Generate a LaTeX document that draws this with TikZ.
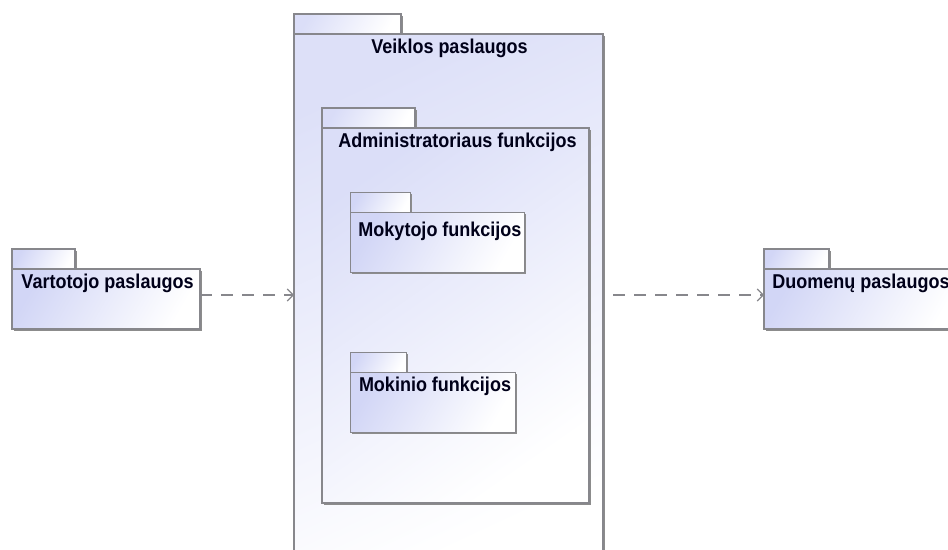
\documentclass[tikz,border=0pt]{standalone}
\usepackage{fontspec}
\newfontfamily\pkgfont[FakeStretch=0.9]{Liberation Sans}
\usetikzlibrary{arrows.meta,shadows,calc}
\definecolor{pkgblue}{RGB}{210,214,246}
\definecolor{pkgline}{RGB}{135,135,140}
\begin{document}
\begin{tikzpicture}[x=1pt,y=1pt,
  pkg/.style={draw=pkgline, line width=1.1pt, top color=white, bottom color=pkgblue, shading angle=240,
    inner sep=0pt, outer sep=0pt,
    drop shadow={shadow xshift=1.6pt, shadow yshift=-1.6pt, fill=black!45, opacity=1}},
  tabbox/.style={pkg, anchor=south west, minimum height=20pt},
  bodybox/.style={pkg, anchor=north west},
  ttl/.style={font=\pkgfont\bfseries\fontsize{20}{21}\selectfont, anchor=base, inner sep=0pt, text=black!90!blue},
  dep/.style={draw=pkgline, line width=1.1pt, dash pattern=on 12pt off 9pt,
    -{Straight Barb[length=6pt,width=12pt,line width=1.1pt]}}]
\useasboundingbox (0,0) rectangle (948,549);
\fill[white] (0,0) rectangle (948,549);

% Vartotojo paslaugos
\node[tabbox, minimum width=63pt] (vartT) at (12,280) {};
\node[bodybox, minimum width=188pt, minimum height=60pt] (vart) at (12,280) {};
\node[ttl] (vartL) at (107.5,260) {Vartotojo paslaugos};

% Veiklos paslaugos
\node[tabbox, minimum width=107pt, top color=white, bottom color=pkgblue!80, shading angle=240] (veikT) at (294,515) {};
\node[bodybox, minimum width=309pt, minimum height=530pt, top color=white, bottom color=pkgblue!75, shading angle=205] (veik) at (294,515) {};
\node[ttl] (veikL) at (449.5,495.5) {Veiklos paslaugos};

% Administratoriaus funkcijos
\node[tabbox, minimum width=93pt, top color=white, bottom color=pkgblue!85, shading angle=240] (admT) at (322,421) {};
\node[bodybox, minimum width=267pt, minimum height=375pt, top color=white, bottom color=pkgblue!80, shading angle=215] (adm) at (322,421) {};
\node[ttl] (admL) at (457.5,401.5) {Administratoriaus funkcijos};

% Mokytojo funkcijos
\node[tabbox, minimum width=60pt] (mokyT) at (350.5,336.5) {};
\node[bodybox, minimum width=174pt, minimum height=60pt] (moky) at (350.5,336.5) {};
\node[ttl] (mokyL) at (440,312.5) {Mokytojo funkcijos};

% Mokinio funkcijos
\node[tabbox, minimum width=56pt] (mokiT) at (350.5,176.5) {};
\node[bodybox, minimum width=165pt, minimum height=60pt] (moki) at (350.5,176.5) {};
\node[ttl] (mokiL) at (435,157) {Mokinio funkcijos};

% Duomenu paslaugos
\node[tabbox, minimum width=65pt] (duomT) at (764,280) {};
\node[bodybox, minimum width=200pt, minimum height=60pt] (duom) at (764,280) {};
\node[ttl] (duomL) at (861,260.5) {Duomenų paslaugos};

% dependencies
\coordinate (a1) at ($(vart.east)+(0,4)$);
\draw[dep] (a1) -- (a1 -| veik.west);
\coordinate (a2) at (613,254);
\draw[dep] (a2) -- (a2 -| duom.west);
\end{tikzpicture}
\end{document}
